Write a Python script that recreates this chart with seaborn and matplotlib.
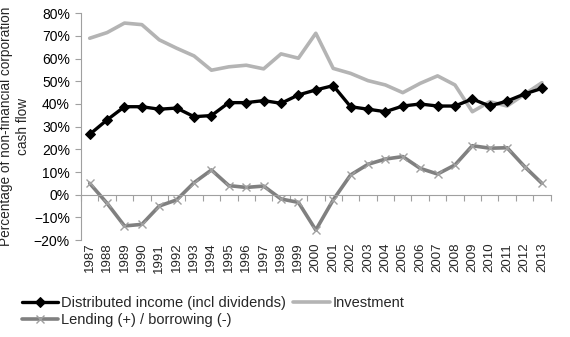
import matplotlib
matplotlib.use("Agg")
import matplotlib.pyplot as plt
import seaborn as sns
import pandas as pd
import numpy as np
from matplotlib.ticker import PercentFormatter

years = [str(y) for y in range(1987, 2014)]
distributed = [26.6, 33.0, 38.8, 38.8, 37.7, 38.2, 34.4, 34.9, 40.6, 40.6, 41.5, 40.3, 44.0, 46.2,
               48.1, 38.8, 37.7, 36.6, 39.1, 40.0, 39.1, 39.1, 42.2, 39.1, 41.3, 44.4, 46.9]
investment = [69.0, 71.5, 75.7, 75.0, 68.3, 64.6, 61.2, 54.9, 56.4, 57.1, 55.5, 62.1, 60.2, 71.2,
              55.7, 53.5, 50.3, 48.4, 45.0, 49.1, 52.4, 48.4, 36.6, 41.0, 39.1, 44.3, 49.4]
lending = [5.0, -3.8, -13.8, -13.1, -5.0, -2.3, 5.3, 10.9, 4.0, 3.2, 3.8, -1.9, -3.4, -15.6,
           -2.3, 8.7, 13.4, 15.7, 16.8, 11.6, 9.1, 13.1, 21.6, 20.5, 20.7, 12.4, 5.0]

names = ["Distributed income (incl dividends)", "Investment", "Lending (+) / borrowing (-)"]

df = pd.DataFrame({"year": years, names[0]: distributed, names[1]: investment, names[2]: lending})
df["pos"] = np.arange(len(years))

sns.set_theme(style="white")
plt.rcParams['font.family'] = ['Liberation Sans', 'DejaVu Sans']

fig = plt.figure(figsize=(5.7, 3.37), dpi=100)
ax = fig.add_axes([0.1421, 0.2878, 0.966 - 0.1421, 0.9605 - 0.2878])

sns.lineplot(data=df, x="pos", y=names[1], ax=ax, color="#b4b4b4", lw=2.6, label=names[1])
sns.lineplot(data=df, x="pos", y=names[0], ax=ax, color="#000000", lw=2.4, marker="D",
             markersize=5, markeredgecolor="#000000", label=names[0])
sns.lineplot(data=df, x="pos", y=names[2], ax=ax, color="#808080", lw=2.6, marker="x",
             markersize=6, markeredgecolor="#a0a0a0", markeredgewidth=1.0, label=names[2])

ax.set_xlim(-0.5, len(years) - 0.5)
ax.set_ylim(-20, 80)
ax.set_yticks(np.arange(-20, 81, 10))
ax.yaxis.set_major_formatter(PercentFormatter(decimals=0))
ax.tick_params(axis='y', labelsize=10, length=4, width=0.8, color="#a0a0a0", left=True,
               pad=4, labelcolor="#000000")

for s in ["top", "right"]:
    ax.spines[s].set_visible(False)
ax.spines["left"].set_color("#a0a0a0")
ax.spines["left"].set_linewidth(0.8)
ax.spines["bottom"].set_position(("data", 0))
ax.spines["bottom"].set_color("#a0a0a0")
ax.spines["bottom"].set_linewidth(0.8)

ax.set_xticks(np.arange(len(years) + 1) - 0.5)
ax.set_xticklabels([])
ax.tick_params(axis='x', bottom=True, length=4, width=0.8, color="#a0a0a0", direction="out")

sec = ax.secondary_xaxis(0.0)
sec.set_xticks(np.arange(len(years)))
sec.set_xticklabels(years, rotation=90, fontsize=9.5)
sec.tick_params(axis='x', length=0, pad=2)
sec.spines["bottom"].set_visible(False)

ax.set_xlabel("")
ax.set_ylabel("Percentage of non-financial corporation\ncash flow", fontsize=9.8, labelpad=3)

h, l = ax.get_legend_handles_labels()
order = [l.index(names[0]), l.index(names[2]), l.index(names[1])]
ax.get_legend().remove()
fig.legend([h[i] for i in order], [l[i] for i in order], ncol=2, loc="lower left",
           bbox_to_anchor=(0.02, 0.0), frameon=False, fontsize=10.5, handlelength=2.5,
           handletextpad=0.2, columnspacing=0.5, labelspacing=0.2, borderaxespad=0.3)

fig.savefig("out.png", dpi=100)
